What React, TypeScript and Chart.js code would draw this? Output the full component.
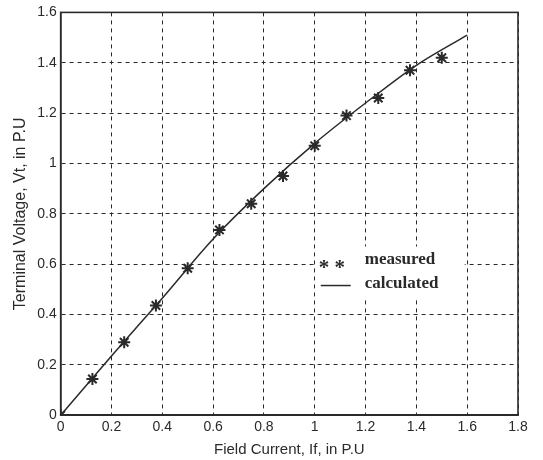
import React, { useEffect, useRef } from "react";
import { Chart, registerables } from "chart.js";

Chart.register(...registerables);

const measuredX = [0, 0.125, 0.25, 0.375, 0.5, 0.625, 0.75, 0.875, 1.0, 1.125, 1.25, 1.375, 1.5];
const measuredY = [0, 0.144, 0.29, 0.436, 0.584, 0.736, 0.84, 0.95, 1.07, 1.19, 1.26, 1.37, 1.42];
const calcX = [0, 0.2, 0.4, 0.6, 0.8, 1.0, 1.2, 1.4, 1.6];
const calcY = [0, 0.235, 0.465, 0.7, 0.9, 1.08, 1.24, 1.39, 1.51];
const xTitle = "Field Current, If, in P.U";
const yTitle = "Terminal Voltage, Vt, in P.U";
const legendLabels = ["measured", "calculated"];

const ink = "#2a2a2a";

const fmt = (v: any) => String(Number(Number(v).toFixed(1)));

const legendPlugin = {
  id: "insideLegend",
  afterDatasetsDraw(chart: any) {
    const { ctx, chartArea } = chart;
    const xs = chart.scales.x;
    const ys = chart.scales.y;
    ctx.save();
    ctx.strokeStyle = ink;
    ctx.lineWidth = 1.6;
    ctx.setLineDash([]);
    ctx.strokeRect(chartArea.left, chartArea.top, chartArea.right - chartArea.left, chartArea.bottom - chartArea.top);
    const lx = xs.getPixelForValue(1.0);
    const ly = ys.getPixelForValue(0.67);
    ctx.fillStyle = "#ffffff";
    ctx.fillRect(lx + 2, ly, 148, 52);
    ctx.fillStyle = ink;
    ctx.textBaseline = "middle";
    ctx.font = "bold 21px 'Liberation Serif'";
    ctx.fillText("* *", lx + 4, ly + 22);
    ctx.font = "bold 17px 'Liberation Serif'";
    ctx.fillText(legendLabels[0], lx + 50, ly + 13);
    ctx.fillText(legendLabels[1], lx + 50, ly + 37);
    ctx.lineWidth = 1.5;
    ctx.beginPath();
    ctx.moveTo(lx + 6, ly + 39);
    ctx.lineTo(lx + 36, ly + 39);
    ctx.stroke();
    ctx.restore();
  },
};

export default function App() {
  const ref = useRef<HTMLCanvasElement | null>(null);
  useEffect(() => {
    document.body.style.margin = "0";
    const canvas = ref.current;
    if (!canvas) return;
    const tickFont = { family: "Liberation Sans", size: 14 };
    const chart = new Chart(canvas, {
      type: "scatter",
      data: {
        datasets: [
          {
            label: legendLabels[1],
            data: calcX.map((x, i) => ({ x, y: calcY[i] })),
            showLine: true,
            borderColor: ink,
            borderWidth: 1.5,
            pointRadius: 0,
            cubicInterpolationMode: "monotone",
          } as any,
          {
            label: legendLabels[0],
            data: measuredX.map((x, i) => ({ x, y: measuredY[i] })),
            showLine: false,
            pointStyle: "star",
            pointRadius: 6,
            borderColor: ink,
            backgroundColor: ink,
            borderWidth: 2,
          } as any,
        ],
      },
      options: {
        animation: false,
        responsive: false,
        layout: { padding: { top: 5, right: 25, left: 7, bottom: 0 } },
        plugins: { legend: { display: false }, tooltip: { enabled: false } },
        scales: {
          x: {
            type: "linear",
            min: 0,
            max: 1.8,
            ticks: { stepSize: 0.2, color: ink, font: tickFont, padding: 4, callback: fmt },
            grid: { color: ink, lineWidth: 1, drawTicks: false },
            border: { display: true, color: ink, width: 1.6, dash: [4, 4] },
            title: { display: true, text: xTitle, color: ink, font: { family: "Liberation Sans", size: 15 }, padding: { top: 1, bottom: 1 } },
          },
          y: {
            type: "linear",
            min: 0,
            max: 1.6,
            ticks: { stepSize: 0.2, color: ink, font: tickFont, padding: 4, callback: fmt },
            grid: { color: ink, lineWidth: 1, drawTicks: false },
            border: { display: true, color: ink, width: 1.6, dash: [4, 4] },
            title: { display: true, text: yTitle, color: ink, font: { family: "Liberation Sans", size: 16 }, padding: { top: 4, bottom: 3 } },
          },
        },
      } as any,
      plugins: [legendPlugin],
    });
    return () => chart.destroy();
  }, []);
  return (
    <div style={{ width: 543, height: 460, background: "#fff" }}>
      <canvas ref={ref} width={543} height={460} />
    </div>
  );
}
